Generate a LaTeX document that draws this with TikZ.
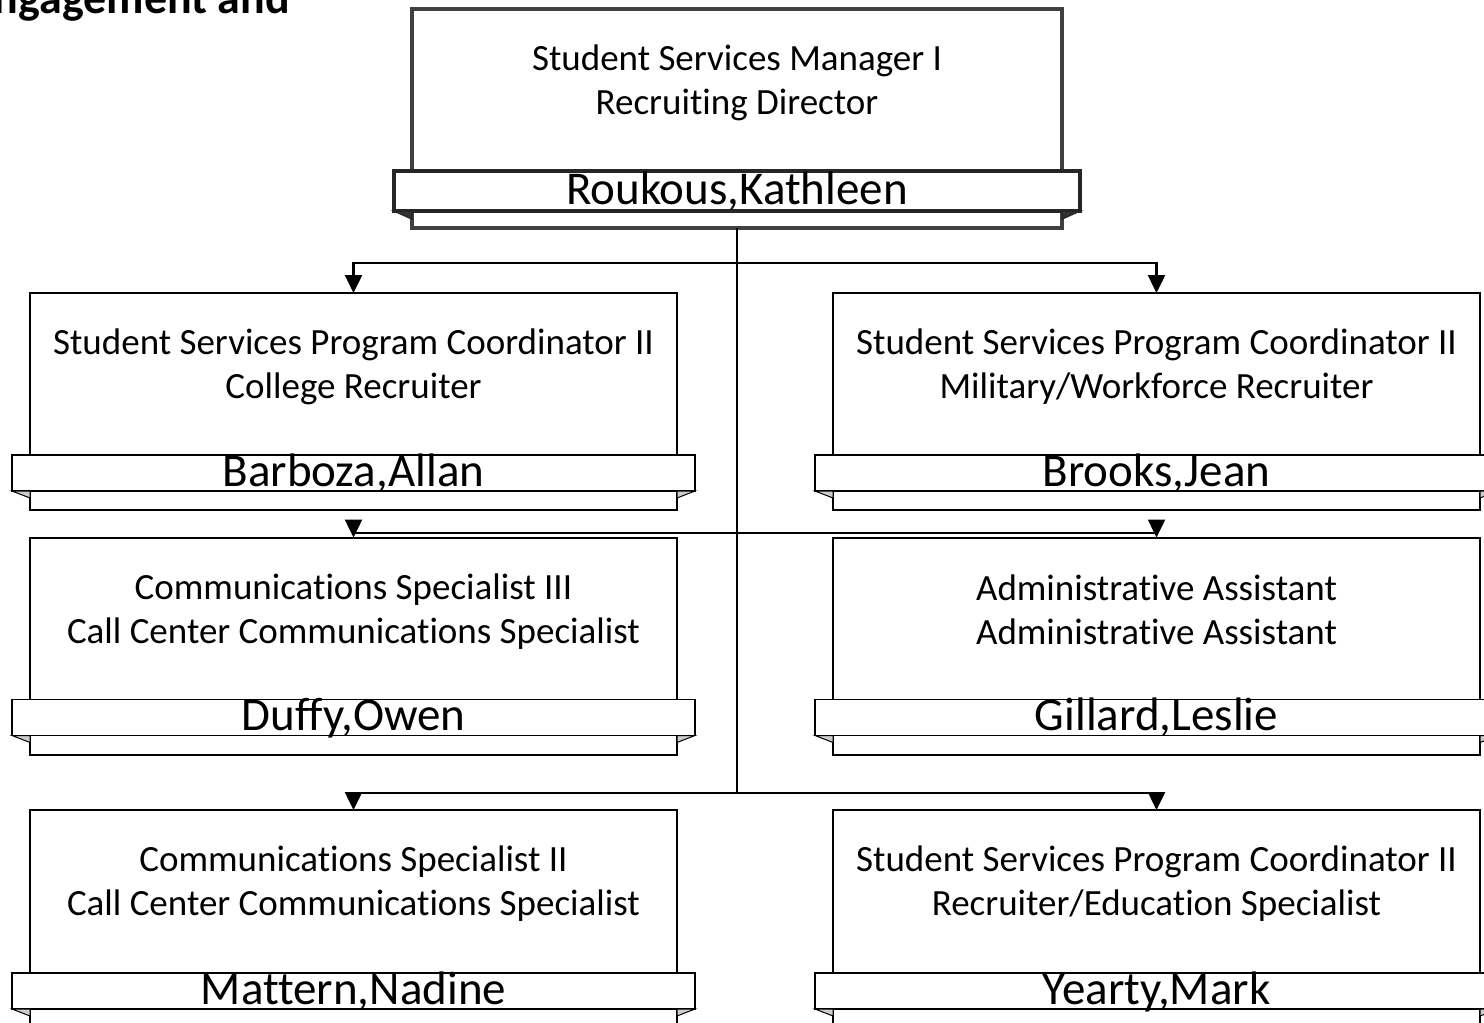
\documentclass[tikz,border=0pt]{standalone}
\usepackage{fontspec}
\setmainfont[Ligatures=NoCommon]{Carlito}
\usetikzlibrary{arrows.meta,positioning}

\begin{document}
\begin{tikzpicture}[
  x=1pt, y=-1pt,
  every node/.style={inner sep=0pt, outer sep=0pt},
  unitbox/.style={draw, line width=2pt, fill=white, minimum width=647pt, minimum height=217pt},
  topbox/.style={unitbox, draw=black!75, line width=4pt, minimum width=650pt, minimum height=219pt},
  ribbon/.style={draw, line width=1.5pt, fill=white, minimum width=683pt, minimum height=36pt,
    text height=31pt, text depth=5pt, font=\fontsize{47}{50}\selectfont},
  topribbon/.style={ribbon, draw=black!85, line width=4pt, minimum width=686pt, minimum height=40pt},
  title/.style={align=center, font=\fontsize{37}{44}\selectfont},
  fold/.style={draw, line width=1pt, fill=black!20},
  topfold/.style={draw=black!85, line width=1.5pt, fill=black!80},
  conn/.style={line width=2.5pt},
  arr/.style={conn, -{Triangle[length=18pt, width=17pt]}}
]
  \useasboundingbox (0,0) rectangle (1484,1023);
  \clip (0,0) rectangle (1484,1023);

  \node[anchor=base east, font=\bfseries\fontsize{46}{50}\selectfont] (unit) at (290,13) {Engagement and};

  % manager
  \node[topbox] (mgr) at (737,118.5) {};
  \node[title] (mgr-title) at (737,83) {Student Services Manager I\\Recruiting Director};
  \node[topribbon] (mgr-name) at (737,191) {Roukous,Kathleen};
  \filldraw[topfold] (mgr-name.south west) -- (mgr-name.south west -| mgr.west) -- ++(0,8) -- cycle;
  \filldraw[topfold] (mgr-name.south east) -- (mgr-name.south east -| mgr.east) -- ++(0,8) -- cycle;

  % staff
  \node[unitbox] (r1l) at (353.5,401.5) {};
  \node[unitbox] (r1r) at (1156.5,401.5) {};
  \node[unitbox] (r2l) at (353.5,646) {};
  \node[unitbox] (r2r) at (1156.5,646) {};
  \node[unitbox] (r3l) at (353.5,918.5) {};
  \node[unitbox] (r3r) at (1156.5,918.5) {};

  \node[title] (r1l-title) at (353.5,366.5) {Student Services Program Coordinator II\\College Recruiter};
  \node[title] (r1r-title) at (1156.5,366.5) {Student Services Program Coordinator II\\Military/Workforce Recruiter};
  \node[title] (r2l-title) at (353.5,611.5) {Communications Specialist III\\Call Center Communications Specialist};
  \node[title] (r2r-title) at (1156.5,609.5) {Administrative Assistant\\Administrative Assistant};
  \node[title] (r3l-title) at (353.5,883.5) {Communications Specialist II\\Call Center Communications Specialist};
  \node[title] (r3r-title) at (1156.5,883.5) {Student Services Program Coordinator II\\Recruiter/Education Specialist};

  \node[ribbon] (r1l-name) at (353.5,473) {Barboza,Allan};
  \node[ribbon] (r1r-name) at (1156.5,473) {Brooks,Jean};
  \node[ribbon] (r2l-name) at (353.5,717.5) {Duffy,Owen};
  \node[ribbon] (r2r-name) at (1156.5,717.5) {Gillard,Leslie};
  \node[ribbon] (r3l-name) at (353.5,991) {Mattern,Nadine};
  \node[ribbon] (r3r-name) at (1156.5,991) {Yearty,Mark};

  \foreach \b in {r1l,r1r,r2l,r2r,r3l,r3r} {
    \filldraw[fold] (\b-name.south west) -- (\b-name.south west -| \b.west) -- ++(0,7) -- cycle;
    \filldraw[fold] (\b-name.south east) -- (\b-name.south east -| \b.east) -- ++(0,7) -- cycle;
  }

  % reporting lines
  \coordinate (bus1) at (737,263);
  \coordinate (bus2) at (737,533);
  \coordinate (bus3) at (737,793);
  \draw[conn] (mgr.south) -- (bus3);
  \draw[arr] (bus1) -| (r1l.north);
  \draw[arr] (bus1) -| (r1r.north);
  \draw[arr] (bus2) -| (r2l.north);
  \draw[arr] (bus2) -| (r2r.north);
  \draw[arr] (bus3) -| (r3l.north);
  \draw[arr] (bus3) -| (r3r.north);
\end{tikzpicture}
\end{document}
